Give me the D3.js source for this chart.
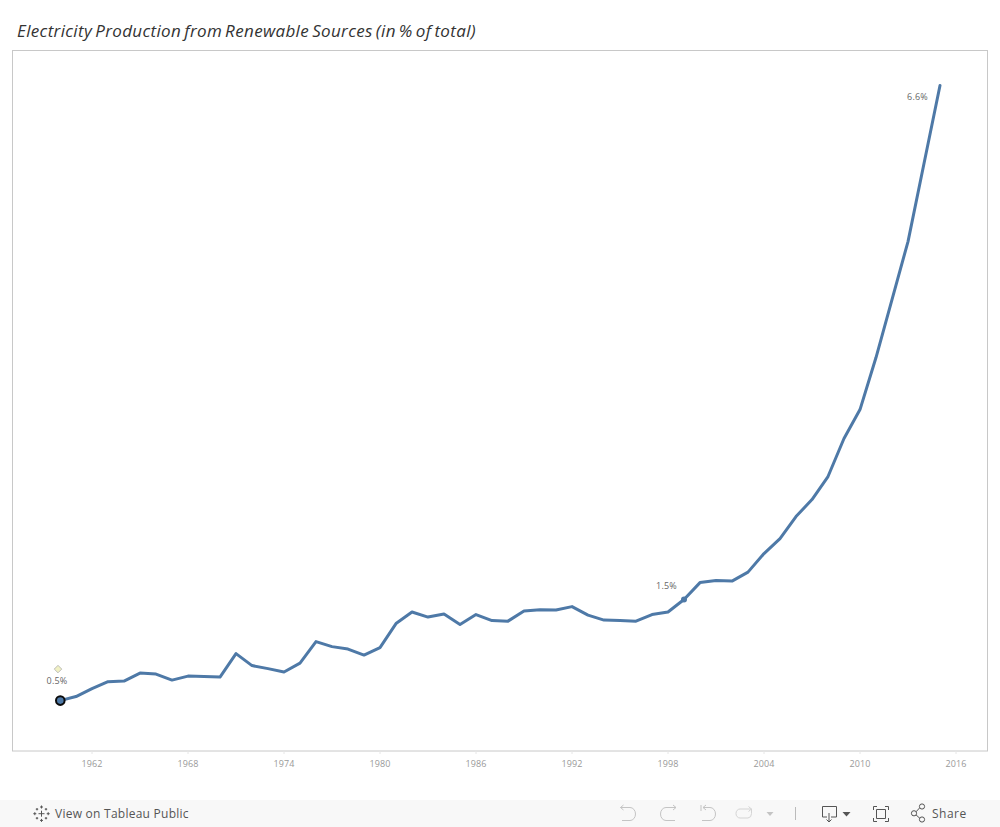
<!DOCTYPE html>
<html>
<head>
<meta charset="utf-8">
<title>Electricity Production from Renewable Sources</title>
<script src="https://cdn.jsdelivr.net/npm/d3@7"></script>
<style>
  body { margin: 0; background: #fff; }
  svg { display: block; }
  text { font-family: "Open Sans", sans-serif; }
</style>
</head>
<body>
<div id="chart"></div>
<script>
//Data
var years = [1960,1961,1962,1963,1964,1965,1966,1967,1968,1969,
	1970,1971,1972,1973,1974,1975,1976,1977,1978,1979,
	1980,1981,1982,1983,1984,1985,1986,1987,1988,1989,
	1990,1991,1992,1993,1994,1995,1996,1997,1998,1999,
	2000,2001,2002,2003,2004,2005,2006,2007,2008,2009,
	2010,2011,2012,2013,2014,2015];
var renewables = [0.500,0.540,0.619,0.688,0.693,0.773,0.763,0.703,0.743,0.738,
	0.733,0.966,0.847,0.817,0.783,0.872,1.085,1.035,1.011,0.951,
	1.026,1.264,1.378,1.328,1.358,1.254,1.353,1.293,1.288,1.388,
	1.402,1.398,1.432,1.348,1.298,1.293,1.288,1.353,1.378,1.502,
	1.670,1.690,1.685,1.774,1.958,2.107,2.325,2.494,2.722,3.099,
	3.386,3.902,4.477,5.052,5.826,6.600];
var tickYears = [1962,1968,1974,1980,1986,1992,1998,2004,2010,2016];
var labelYears = [1960,1999,2015];

var cfg = {
	w: 1000,
	h: 827,
	frame: {left: 12.5, right: 987.5, top: 50.5, bottom: 751},
	lineColor: "#4e79a7",
	frameColor: "#c8c8c8"
};

var svg = d3.select("#chart").append("svg")
	.attr("width", cfg.w)
	.attr("height", cfg.h);

var x = d3.scaleLinear().domain([1960, 2016]).range([60, 956]);
var y = d3.scaleLinear().domain([0, 6.6]).range([751, 85.5]);

//Title
svg.append("text")
	.attr("x", 17)
	.attr("y", 37)
	.style("font-size", "17px")
	.style("font-style", "italic")
	.style("letter-spacing", "0.35px")
	.style("word-spacing", "-1.7px")
	.style("fill", "#333")
	.text("Electricity Production from Renewable Sources (in % of total)");

//Frame
svg.append("rect")
	.attr("x", cfg.frame.left)
	.attr("y", cfg.frame.top)
	.attr("width", cfg.frame.right - cfg.frame.left)
	.attr("height", cfg.frame.bottom - cfg.frame.top)
	.attr("fill", "none")
	.attr("stroke", cfg.frameColor);

//Axis
var axis = svg.append("g")
	.attr("transform", "translate(0," + cfg.frame.bottom + ")")
	.call(d3.axisBottom(x).offset(0).tickValues(tickYears).tickFormat(d3.format("d")).tickSize(3).tickPadding(7));
axis.select(".domain").remove();
axis.selectAll("line").attr("stroke", "#e6e6e6");
axis.selectAll("text")
	.style("font-size", "9px")
	.style("letter-spacing", "0.1px")
	.style("fill", "#999");

//Line
var line = d3.line()
	.x(function(d, i){ return x(years[i]); })
	.y(function(d){ return y(d); });

svg.append("path")
	.datum(renewables)
	.attr("fill", "none")
	.attr("stroke", cfg.lineColor)
	.attr("stroke-width", 3)
	.attr("stroke-linejoin", "round")
	.attr("stroke-linecap", "round")
	.attr("d", line);

//Labelled points
var labelPos = {
	1960: {dx: -3, dy: -16.5},
	1999: {dx: -17.5, dy: -10.5},
	2015: {dx: -22.5, dy: 14.5}
};
svg.selectAll(".label")
	.data(labelYears)
	.enter()
	.append("text")
	.attr("class", "label")
	.attr("text-anchor", "middle")
	.attr("x", function(d){ return x(d) + labelPos[d].dx; })
	.attr("y", function(d){ return y(renewables[years.indexOf(d)]) + labelPos[d].dy; })
	.style("font-size", "9px")
	.style("letter-spacing", "0.2px")
	.style("fill", "#666")
	.text(function(d){ return d3.format(".1f")(renewables[years.indexOf(d)]) + "%"; });

svg.append("circle")
	.attr("cx", x(1999))
	.attr("cy", y(renewables[years.indexOf(1999)]))
	.attr("r", 3)
	.attr("fill", cfg.lineColor);

svg.append("circle")
	.attr("cx", x(1960) + 0.3)
	.attr("cy", y(renewables[0]))
	.attr("r", 4.3)
	.attr("fill", cfg.lineColor)
	.attr("stroke", "#0b0b0b")
	.attr("stroke-width", 2);

//Small diamond above the first label
svg.append("path")
	.attr("d", d3.symbol().type(d3.symbolSquare).size(28))
	.attr("transform", "translate(" + (x(1960) - 2) + "," + (y(renewables[0]) - 31.5) + ") rotate(45)")
	.attr("fill", "#f1f1c4")
	.attr("stroke", "#aaa")
	.attr("stroke-width", 0.7);

//Toolbar
var bar = svg.append("g");
bar.append("rect")
	.attr("x", 0)
	.attr("y", 800)
	.attr("width", cfg.w)
	.attr("height", 27)
	.attr("fill", "#f8f8f8");

var toolText = "#555";
bar.append("text")
	.attr("x", 55)
	.attr("y", 818)
	.style("font-size", "12px")
	.style("letter-spacing", "0.25px")
	.style("fill", toolText)
	.text("View on Tableau Public");
bar.append("text")
	.attr("x", 932)
	.attr("y", 818)
	.style("font-size", "12px")
	.style("letter-spacing", "0.5px")
	.style("fill", toolText)
	.text("Share");

//Tableau logo, crosses of different sizes
var crosses = [[41.5,813.7,3],[34.8,813.7,1.5],[48.2,813.7,1.5],[41.5,807,1.5],[41.5,820.4,1.5],[37,809.2,1.2],[46,809.2,1.2],[37,818.2,1.2],[46,818.2,1.2]];
bar.selectAll(".logo")
	.data(crosses)
	.enter()
	.append("path")
	.attr("class", "logo")
	.attr("d", function(d){
		return "M" + (d[0]-d[2]) + "," + d[1] + "H" + (d[0]+d[2]) + "M" + d[0] + "," + (d[1]-d[2]) + "V" + (d[1]+d[2]);
	})
	.attr("stroke", "#555")
	.attr("stroke-width", 1)
	.attr("fill", "none");

//Toolbar icons
var icons = [
	{d: "M620.5,807.5H630a5.5,6.5 0 0 1 0,13H622M620.5,807.5l3,-2.5M620.5,807.5l3,2.5", c: "#c4c4c4"},
	{d: "M676,807.5H666a5.5,6.5 0 0 0 0,13H675M676,807.5l-3,-2.5M676,807.5l-3,2.5", c: "#c4c4c4"},
	{d: "M701,805V811M703,807.5H710a5.5,6.5 0 0 1 0,13H702M703,807.5l3,-2.5M703,807.5l3,2.5", c: "#c4c4c4"},
	{d: "M751.5,809H740a4,4.5 0 0 0 0,9H748a4,4.5 0 0 0 3.5,-4.5V809M751.5,809l-3,-2.5M751.5,809l-3,2.5", c: "#d4d4d4"},
	{d: "M795.5,807V820", c: "#bbb"},
	{d: "M827,817H822.5V806.5H836.5V817H831M829,813V821.5M826.5,819.5l2.5,2.5l2.5,-2.5", c: "#555"},
	{d: "M873.5,810V806.5H877M885,806.5H888.5V810M888.5,818V821.5H885M877,821.5H873.5V818M876.5,809.5H885.5V818.5H876.5Z", c: "#555"},
	{d: "M916,811.8L920,807.5M916,814.8L920,818.5", c: "#555"}
];
bar.selectAll(".icon")
	.data(icons)
	.enter()
	.append("path")
	.attr("class", "icon")
	.attr("d", function(d){ return d.d; })
	.attr("fill", "none")
	.attr("stroke", function(d){ return d.c; })
	.attr("stroke-width", 1);

var arrows = [
	{d: "M766.5,812h7l-3.5,4z", c: "#c4c4c4"},
	{d: "M842.5,812h8l-4,4.5z", c: "#555"}
];
bar.selectAll(".arrow")
	.data(arrows)
	.enter()
	.append("path")
	.attr("class", "arrow")
	.attr("d", function(d){ return d.d; })
	.attr("fill", function(d){ return d.c; });

var shareDots = [[914,813.3],[922,806.5],[922,819.5]];
bar.selectAll(".dot")
	.data(shareDots)
	.enter()
	.append("circle")
	.attr("class", "dot")
	.attr("cx", function(d){ return d[0]; })
	.attr("cy", function(d){ return d[1]; })
	.attr("r", 2.6)
	.attr("fill", "#f8f8f8")
	.attr("stroke", "#555");
</script>
</body>
</html>
